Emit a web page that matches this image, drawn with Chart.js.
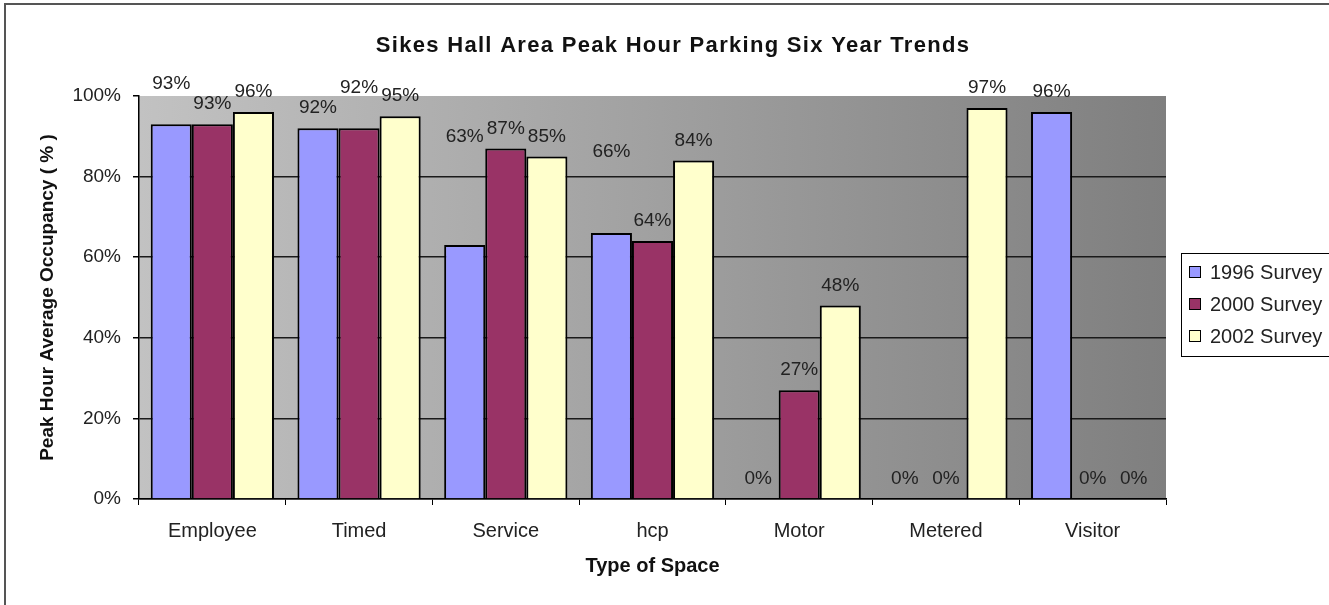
<!DOCTYPE html>
<html>
<head>
    <title>Sikes Hall Area Peak Hour Parking</title>
    <style>
        body {
            margin: 0;
            background-color: #ffffff;
        }

        #chartBox {
            width: 1329px;
            height: 605px;
        }
    </style>
    <script src="https://cdn.jsdelivr.net/npm/chart.js"></script>
</head>
<body>
    <div id="chartBox">
        <canvas id="parkingChart"></canvas>
    </div>

    <script>
        // datos
        var categorias = ['Employee', 'Timed', 'Service', 'hcp', 'Motor', 'Metered', 'Visitor'];
        var encuesta1996 = [93, 92, 63, 66, 0, 0, 96];
        var encuesta2000 = [93, 92, 87, 64, 27, 0, 0];
        var encuesta2002 = [96, 95, 85, 84, 48, 97, 0];
        var etiquetasY = ['0%', '20%', '40%', '60%', '80%', '100%'];
        var titulo = 'Sikes Hall Area Peak Hour Parking Six Year Trends';

        var fuente = "'Liberation Sans', Arial, sans-serif";

        // marco exterior, titulo y fondo degradado del area del grafico
        var fondoPlugin = {
            id: 'fondo',
            beforeDraw: function(chart) {
                var ctx = chart.ctx;
                var a = chart.chartArea;
                ctx.save();
                ctx.strokeStyle = '#555555';
                ctx.lineWidth = 2;
                ctx.beginPath();
                ctx.moveTo(5, chart.height);
                ctx.lineTo(5, 4);
                ctx.lineTo(chart.width, 4);
                ctx.stroke();

                ctx.font = 'bold 22px ' + fuente;
                ctx.letterSpacing = '1.3px';
                ctx.fillStyle = '#111111';
                ctx.textAlign = 'center';
                ctx.textBaseline = 'middle';
                ctx.fillText(titulo, 673, 46);
                ctx.letterSpacing = '0px';

                var grad = ctx.createLinearGradient(a.left, 0, a.right, 0);
                grad.addColorStop(0, '#c2c2c2');
                grad.addColorStop(1, '#7f7f7f');
                ctx.fillStyle = grad;
                ctx.fillRect(a.left, a.top, a.right - a.left, a.bottom - a.top);
                ctx.restore();
            }
        };

        // etiquetas de valor encima de cada barra
        var etiquetasPlugin = {
            id: 'etiquetas',
            afterDatasetsDraw: function(chart, args, opts) {
                var ctx = chart.ctx;
                ctx.save();
                ctx.font = '19px ' + fuente;
                ctx.fillStyle = '#222222';
                ctx.textAlign = 'center';
                ctx.textBaseline = 'middle';
                chart.data.datasets.forEach(function(ds, i) {
                    var meta = chart.getDatasetMeta(i);
                    meta.data.forEach(function(bar, j) {
                        var extra = (opts.subir[i] && opts.subir[i][j]) || 0;
                        ctx.fillText(ds.data[j] + '%', bar.x, bar.y - 20 - extra);
                    });
                });
                ctx.restore();
            }
        };

        // leyenda con recuadro a la derecha
        var leyendaPlugin = {
            id: 'leyenda',
            afterDraw: function(chart) {
                var ctx = chart.ctx;
                ctx.save();
                ctx.fillStyle = '#ffffff';
                ctx.fillRect(1181, 253, 160, 103);
                ctx.strokeStyle = '#000000';
                ctx.lineWidth = 1;
                ctx.strokeRect(1181.5, 253.5, 160, 103);
                ctx.font = '20px ' + fuente;
                ctx.textBaseline = 'middle';
                ctx.textAlign = 'left';
                chart.data.datasets.forEach(function(ds, i) {
                    var y = 272 + i * 32;
                    ctx.fillStyle = ds.backgroundColor;
                    ctx.fillRect(1189, y - 6, 12, 12);
                    ctx.strokeStyle = '#000000';
                    ctx.strokeRect(1189.5, y - 5.5, 11, 11);
                    ctx.fillStyle = '#222222';
                    ctx.fillText(ds.label, 1210, y + 1);
                });
                ctx.restore();
            }
        };

        var parkingChart = new Chart(document.getElementById('parkingChart'), {
            type: 'bar',
            data: {
                labels: categorias,
                datasets: [{
                    label: '1996 Survey',
                    data: encuesta1996,
                    backgroundColor: '#9999ff',
                    borderColor: '#000000',
                    borderWidth: 2
                }, {
                    label: '2000 Survey',
                    data: encuesta2000,
                    backgroundColor: '#993366',
                    borderColor: '#000000',
                    borderWidth: 2
                }, {
                    label: '2002 Survey',
                    data: encuesta2002,
                    backgroundColor: '#ffffcc',
                    borderColor: '#000000',
                    borderWidth: 2
                }]
            },
            options: {
                responsive: true,
                maintainAspectRatio: false,
                animation: false,
                layout: {
                    padding: { left: 0, right: 163, top: 96, bottom: 0 }
                },
                datasets: {
                    bar: {
                        categoryPercentage: 0.84,
                        barPercentage: 1.0
                    }
                },
                plugins: {
                    legend: { display: false },
                    tooltip: { enabled: false },
                    title: { display: false },
                    etiquetas: {
                        subir: [[20, 0, 88, 61, 0, 0, 0], [0, 20, 0, 0, 0, 0, 0], [0, 0, 0, 0, 0, 0, 0]]
                    }
                },
                scales: {
                    x: {
                        offset: true,
                        grid: {
                            drawOnChartArea: false,
                            drawTicks: true,
                            tickLength: 6,
                            color: '#000000'
                        },
                        border: { color: '#000000', width: 1.5 },
                        ticks: {
                            color: '#222222',
                            padding: 14,
                            font: { family: fuente, size: 20 }
                        },
                        title: {
                            display: true,
                            text: 'Type of Space',
                            color: '#111111',
                            font: { family: fuente, size: 20, weight: 'bold', lineHeight: 1.2 },
                            padding: { top: 0, bottom: 27 }
                        },
                        afterFit: function(scale) {
                            scale.height = 106;
                        }
                    },
                    y: {
                        min: 0,
                        max: 100,
                        ticks: {
                            stepSize: 20,
                            color: '#222222',
                            padding: 12,
                            font: { family: fuente, size: 19 },
                            callback: function(v) {
                                return etiquetasY[v / 20];
                            }
                        },
                        grid: {
                            drawTicks: true,
                            tickLength: 6,
                            lineWidth: 1.5,
                            color: function(ctx) {
                                if (ctx.tick && ctx.tick.value === 100) {
                                    return 'rgba(0,0,0,0)';
                                }
                                return '#1a1a1a';
                            },
                            tickColor: '#000000'
                        },
                        border: { color: '#000000', width: 1.5 },
                        title: {
                            display: true,
                            text: 'Peak Hour Average Occupancy ( % )',
                            color: '#111111',
                            font: { family: fuente, size: 19, weight: 'bold', lineHeight: 1.2 },
                            padding: { top: 36, bottom: 0 }
                        },
                        afterFit: function(scale) {
                            scale.width = 139;
                        }
                    }
                }
            },
            plugins: [fondoPlugin, etiquetasPlugin, leyendaPlugin]
        });
    </script>
</body>
</html>
